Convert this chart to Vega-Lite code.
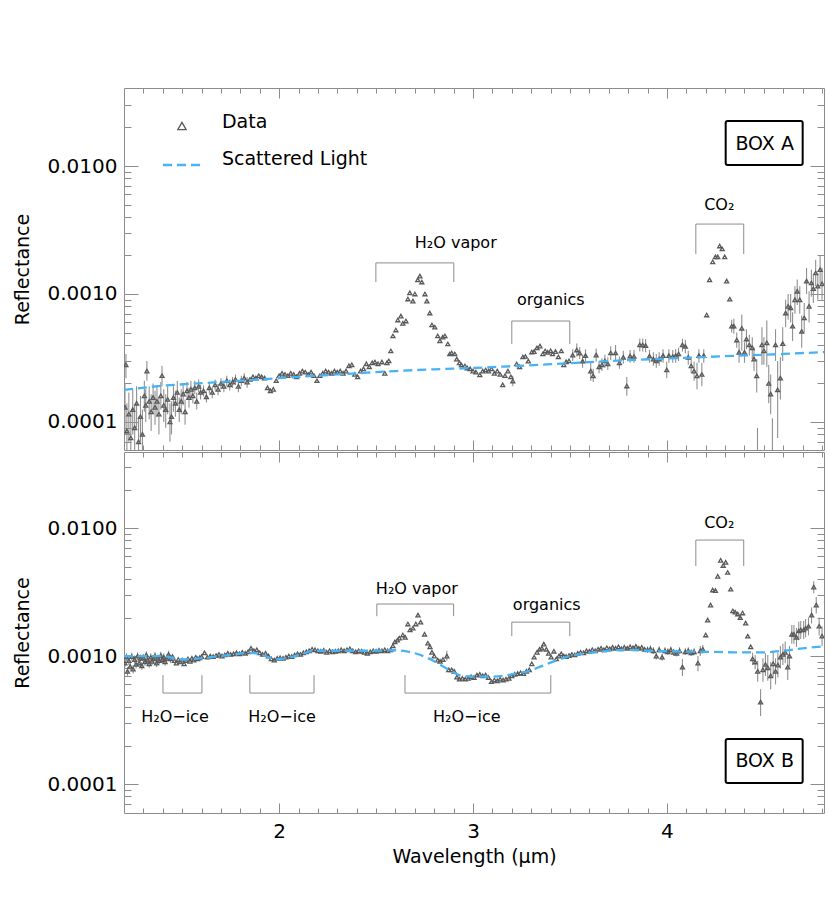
{
"$schema":"https://vega.github.io/schema/vega-lite/v6.json",
"padding":{"left":13,"top":87,"right":6,"bottom":10},
"spacing":0,
"resolve":{"scale":{"x":"independent","y":"independent"}},
"config":{"view":{"stroke":null},"font":"DejaVu Sans","axis":{"grid":false,"domainColor":"#8c8c8c","tickColor":"#8c8c8c","tickWidth":1,"domainWidth":1,"labelColor":"#000","titleColor":"#000","labelFont":"DejaVu Sans","titleFont":"DejaVu Sans","labelFontSize":20,"titleFontSize":19,"titleFontWeight":"normal"}},
"datasets":{
"a":[
{"w":1.205,"r":1.3e-4,"lo":8e-5,"hi":2.0e-4},{"w":1.21,"r":2.8e-4,"lo":2.2e-4,"hi":3.4e-4},{"w":1.215,"r":8.5e-5,"lo":5e-5,"hi":1.4e-4},{"w":1.225,"r":1.15e-4,"lo":7e-5,"hi":1.7e-4},{"w":1.235,"r":7.5e-5,"lo":4.5e-5,"hi":1.2e-4},{"w":1.245,"r":1.25e-4,"lo":8e-5,"hi":1.8e-4},{"w":1.255,"r":9e-5,"lo":6e-5,"hi":1.35e-4},{"w":1.265,"r":1.4e-4,"lo":9e-5,"hi":1.9e-4},{"w":1.275,"r":7e-5,"lo":4.5e-5,"hi":1.1e-4},{"w":1.285,"r":1.1e-4,"lo":7e-5,"hi":1.6e-4},{"w":1.295,"r":8e-5,"lo":5e-5,"hi":1.25e-4},
{"w":1.305,"r":1.6e-4,"lo":1.2e-4,"hi":2.1e-4},{"w":1.312,"r":1.35e-4,"lo":1.0e-4,"hi":1.8e-4},{"w":1.318,"r":2.5e-4,"lo":2.1e-4,"hi":3.0e-4},{"w":1.33,"r":1.45e-4,"lo":1.05e-4,"hi":1.9e-4},{"w":1.34,"r":1.2e-4,"lo":8.5e-5,"hi":1.65e-4},{"w":1.35,"r":1.55e-4,"lo":1.15e-4,"hi":2.0e-4},{"w":1.36,"r":1.3e-4,"lo":9.5e-5,"hi":1.75e-4},{"w":1.37,"r":1.45e-4,"lo":1.1e-4,"hi":1.9e-4},{"w":1.38,"r":1.15e-4,"lo":8e-5,"hi":1.55e-4},{"w":1.39,"r":1.6e-4,"lo":1.25e-4,"hi":2.05e-4},{"w":1.396,"r":2.3e-4,"lo":1.9e-4,"hi":2.75e-4},
{"w":1.405,"r":1.35e-4,"lo":1.0e-4,"hi":1.8e-4},{"w":1.415,"r":1.25e-4,"lo":9e-5,"hi":1.65e-4},{"w":1.425,"r":1.5e-4,"lo":1.15e-4,"hi":1.9e-4},{"w":1.437,"r":1.0e-4,"lo":7e-5,"hi":1.4e-4},{"w":1.445,"r":1.1e-4,"lo":8e-5,"hi":1.45e-4},{"w":1.455,"r":1.55e-4,"lo":1.2e-4,"hi":1.95e-4},{"w":1.465,"r":1.4e-4,"lo":1.1e-4,"hi":1.75e-4},{"w":1.475,"r":1.7e-4,"lo":1.35e-4,"hi":2.1e-4},{"w":1.485,"r":1.25e-4,"lo":1.0e-4,"hi":1.55e-4},{"w":1.495,"r":1.45e-4,"lo":1.15e-4,"hi":1.8e-4},
{"w":1.505,"r":1.65e-4,"lo":1.35e-4,"hi":2.0e-4},{"w":1.515,"r":1.2e-4,"lo":9.5e-5,"hi":1.5e-4},{"w":1.525,"r":1.75e-4,"lo":1.5e-4,"hi":2.05e-4},{"w":1.535,"r":1.55e-4,"lo":1.3e-4,"hi":1.85e-4},{"w":1.545,"r":1.8e-4,"lo":1.55e-4,"hi":2.1e-4},{"w":1.555,"r":1.6e-4,"lo":1.4e-4,"hi":1.85e-4},{"w":1.565,"r":1.85e-4,"lo":1.65e-4,"hi":2.1e-4},{"w":1.575,"r":1.45e-4,"lo":1.25e-4,"hi":1.7e-4},{"w":1.585,"r":1.9e-4,"lo":1.7e-4,"hi":2.15e-4},{"w":1.595,"r":1.7e-4,"lo":1.5e-4,"hi":1.95e-4},
{"w":1.61,"r":1.75e-4,"lo":1.58e-4,"hi":1.93e-4},{"w":1.625,"r":1.57e-4,"lo":1.42e-4,"hi":1.73e-4},{"w":1.64,"r":1.85e-4,"lo":1.67e-4,"hi":2.04e-4},{"w":1.655,"r":1.7e-4,"lo":1.53e-4,"hi":1.87e-4},{"w":1.67,"r":1.95e-4,"lo":1.76e-4,"hi":2.15e-4},{"w":1.685,"r":1.8e-4,"lo":1.62e-4,"hi":1.98e-4},{"w":1.7,"r":2.0e-4,"lo":1.8e-4,"hi":2.2e-4},{"w":1.715,"r":1.9e-4,"lo":1.71e-4,"hi":2.09e-4},{"w":1.73,"r":2.1e-4,"lo":1.9e-4,"hi":2.3e-4},{"w":1.745,"r":1.95e-4,"lo":1.76e-4,"hi":2.15e-4},{"w":1.76,"r":2.05e-4,"lo":1.85e-4,"hi":2.25e-4},{"w":1.775,"r":2.15e-4,"lo":1.95e-4,"hi":2.35e-4},{"w":1.79,"r":1.9e-4,"lo":1.71e-4,"hi":2.09e-4},{"w":1.805,"r":2.1e-4,"lo":1.9e-4,"hi":2.3e-4},{"w":1.82,"r":2.2e-4,"lo":2.0e-4,"hi":2.4e-4},{"w":1.835,"r":2.05e-4,"lo":1.85e-4,"hi":2.25e-4},
{"w":1.85,"r":2.15e-4},{"w":1.865,"r":2.25e-4},{"w":1.88,"r":2.2e-4},{"w":1.895,"r":2.3e-4},{"w":1.91,"r":2.25e-4},{"w":1.925,"r":2.2e-4},{"w":1.94,"r":1.85e-4},{"w":1.955,"r":1.75e-4},{"w":1.97,"r":1.8e-4},{"w":1.985,"r":2.1e-4},{"w":2.0,"r":2.3e-4},{"w":2.015,"r":2.4e-4},{"w":2.03,"r":2.35e-4},{"w":2.045,"r":2.3e-4},{"w":2.06,"r":2.4e-4},{"w":2.075,"r":2.35e-4},{"w":2.09,"r":2.25e-4},
{"w":2.105,"r":2.4e-4},{"w":2.12,"r":2.5e-4},{"w":2.135,"r":2.45e-4},{"w":2.15,"r":2.35e-4},{"w":2.165,"r":2.45e-4},{"w":2.18,"r":2.3e-4},{"w":2.195,"r":2.1e-4},{"w":2.21,"r":2.3e-4},{"w":2.225,"r":2.4e-4},{"w":2.24,"r":2.5e-4},{"w":2.255,"r":2.45e-4},{"w":2.27,"r":2.4e-4},{"w":2.285,"r":2.5e-4},{"w":2.3,"r":2.45e-4},{"w":2.315,"r":2.5e-4},{"w":2.33,"r":2.4e-4},{"w":2.345,"r":2.5e-4},{"w":2.36,"r":2.75e-4},{"w":2.375,"r":2.8e-4},{"w":2.39,"r":2.35e-4},{"w":2.405,"r":2.25e-4},{"w":2.42,"r":2.5e-4},{"w":2.435,"r":2.6e-4},{"w":2.45,"r":2.85e-4},{"w":2.465,"r":2.7e-4},{"w":2.48,"r":2.9e-4},
{"w":2.494,"r":2.94e-4},{"w":2.51,"r":2.85e-4},{"w":2.53,"r":2.94e-4},{"w":2.545,"r":2.4e-4},{"w":2.556,"r":2.9e-4},{"w":2.566,"r":3.0e-4},{"w":2.576,"r":3.59e-4},{"w":2.587,"r":4.7e-4},{"w":2.602,"r":5.23e-4},{"w":2.612,"r":6.26e-4},{"w":2.628,"r":6.72e-4},{"w":2.638,"r":5.9e-4},{"w":2.654,"r":6.15e-4},{"w":2.664,"r":9.14e-4},{"w":2.674,"r":1.02e-3},{"w":2.69,"r":8.8e-4},{"w":2.7,"r":1.0e-3},{"w":2.715,"r":1.29e-3},{"w":2.726,"r":1.38e-3},{"w":2.736,"r":1.24e-3},{"w":2.752,"r":1.0e-3},{"w":2.762,"r":8.8e-4},{"w":2.777,"r":7.1e-4},{"w":2.788,"r":5.73e-4},{"w":2.803,"r":5.5e-4},{"w":2.818,"r":4.7e-4},{"w":2.829,"r":4.3e-4},{"w":2.844,"r":4.6e-4},{"w":2.855,"r":4.7e-4},{"w":2.87,"r":4.07e-4},{"w":2.88,"r":3.4e-4},{"w":2.89,"r":3.46e-4},{"w":2.906,"r":3.4e-4},{"w":2.916,"r":3.1e-4},{"w":2.93,"r":2.9e-4},{"w":2.94,"r":2.79e-4},{"w":2.958,"r":2.74e-4},{"w":2.97,"r":2.64e-4},{"w":2.985,"r":2.6e-4},
{"w":3.0,"r":2.5e-4},{"w":3.015,"r":2.45e-4},{"w":3.035,"r":2.33e-4},{"w":3.05,"r":2.5e-4},{"w":3.065,"r":2.55e-4},{"w":3.08,"r":2.5e-4},{"w":3.095,"r":2.6e-4},{"w":3.11,"r":2.4e-4},{"w":3.125,"r":2.5e-4},{"w":3.14,"r":2.35e-4},{"w":3.153,"r":1.95e-4},{"w":3.165,"r":2.3e-4},{"w":3.18,"r":2.5e-4},{"w":3.195,"r":2.25e-4},{"w":3.205,"r":2.09e-4,"lo":1.9e-4,"hi":2.3e-4},{"w":3.225,"r":2.84e-4},{"w":3.24,"r":2.7e-4},{"w":3.257,"r":3.22e-4},{"w":3.27,"r":3.25e-4},{"w":3.285,"r":2.99e-4},{"w":3.303,"r":3.52e-4},{"w":3.315,"r":3.55e-4},{"w":3.33,"r":3.79e-4},{"w":3.345,"r":3.92e-4},{"w":3.36,"r":3.4e-4},{"w":3.372,"r":3.59e-4},{"w":3.385,"r":3.5e-4},{"w":3.4,"r":3.6e-4},{"w":3.41,"r":3.4e-4},{"w":3.425,"r":3.55e-4},{"w":3.44,"r":3.22e-4},{"w":3.455,"r":3.59e-4},{"w":3.468,"r":2.79e-4},{"w":3.48,"r":2.95e-4},{"w":3.495,"r":3.0e-4},
{"w":3.514,"r":3.33e-4,"lo":3.0e-4,"hi":3.7e-4},{"w":3.535,"r":3.65e-4,"lo":3.25e-4,"hi":4.1e-4},{"w":3.55,"r":3.45e-4,"lo":3.1e-4,"hi":3.85e-4},{"w":3.565,"r":2.99e-4,"lo":2.65e-4,"hi":3.35e-4},{"w":3.58,"r":3.3e-4,"lo":2.95e-4,"hi":3.7e-4},{"w":3.607,"r":2.5e-4,"lo":2.1e-4,"hi":2.9e-4},{"w":3.62,"r":2.29e-4,"lo":2.05e-4,"hi":2.6e-4},{"w":3.635,"r":3.33e-4,"lo":2.95e-4,"hi":3.75e-4},{"w":3.65,"r":2.7e-4,"lo":2.4e-4,"hi":3.0e-4},{"w":3.665,"r":2.8e-4,"lo":2.5e-4,"hi":3.15e-4},{"w":3.68,"r":3.0e-4,"lo":2.65e-4,"hi":3.35e-4},{"w":3.695,"r":2.85e-4,"lo":2.55e-4,"hi":3.2e-4},{"w":3.71,"r":3.46e-4,"lo":3.05e-4,"hi":3.9e-4},{"w":3.735,"r":3.46e-4,"lo":3.0e-4,"hi":4.0e-4},{"w":3.755,"r":2.9e-4,"lo":2.6e-4,"hi":3.25e-4},{"w":3.775,"r":3.2e-4,"lo":2.85e-4,"hi":3.6e-4},{"w":3.793,"r":1.91e-4,"lo":1.6e-4,"hi":2.25e-4},{"w":3.81,"r":3.27e-4,"lo":2.9e-4,"hi":3.65e-4},{"w":3.83,"r":3.25e-4,"lo":2.9e-4,"hi":3.65e-4},{"w":3.86,"r":4.0e-4,"lo":3.55e-4,"hi":4.5e-4},{"w":3.875,"r":4.0e-4,"lo":3.55e-4,"hi":4.5e-4},{"w":3.89,"r":3.95e-4,"lo":3.5e-4,"hi":4.45e-4},{"w":3.91,"r":3.27e-4,"lo":2.9e-4,"hi":3.65e-4},{"w":3.93,"r":3.1e-4,"lo":2.75e-4,"hi":3.5e-4},{"w":3.945,"r":3.0e-4,"lo":2.65e-4,"hi":3.4e-4},{"w":3.96,"r":3.1e-4,"lo":2.75e-4,"hi":3.5e-4},{"w":3.98,"r":3.3e-4,"lo":2.9e-4,"hi":3.7e-4},{"w":3.999,"r":2.55e-4,"lo":2.2e-4,"hi":2.95e-4},
{"w":4.01,"r":3.3e-4,"lo":2.9e-4,"hi":3.7e-4},{"w":4.03,"r":3.25e-4,"lo":2.9e-4,"hi":3.65e-4},{"w":4.045,"r":3.3e-4,"lo":2.9e-4,"hi":3.7e-4},{"w":4.06,"r":3.4e-4,"lo":3.0e-4,"hi":3.8e-4},{"w":4.08,"r":4.0e-4,"lo":3.55e-4,"hi":4.5e-4},{"w":4.095,"r":3.9e-4,"lo":3.45e-4,"hi":4.4e-4},{"w":4.11,"r":3.2e-4,"lo":2.8e-4,"hi":3.6e-4},{"w":4.125,"r":2.74e-4,"lo":2.4e-4,"hi":3.1e-4},{"w":4.14,"r":2.5e-4,"lo":2.1e-4,"hi":2.95e-4},{"w":4.155,"r":2.29e-4,"lo":1.8e-4,"hi":2.9e-4},{"w":4.165,"r":3.3e-4,"lo":2.9e-4,"hi":3.7e-4},{"w":4.18,"r":2.35e-4,"lo":1.9e-4,"hi":2.9e-4},{"w":4.19,"r":3.3e-4,"lo":2.9e-4,"hi":3.7e-4},
{"w":4.205,"r":6.85e-4},{"w":4.22,"r":1.29e-3},{"w":4.236,"r":1.78e-3},{"w":4.25,"r":1.95e-3},{"w":4.262,"r":1.95e-3},{"w":4.272,"r":2.37e-3},{"w":4.285,"r":2.25e-3},{"w":4.298,"r":1.95e-3},{"w":4.308,"r":1.26e-3},{"w":4.324,"r":9.1e-4},{"w":4.334,"r":5.6e-4,"lo":5.0e-4,"hi":6.3e-4},{"w":4.345,"r":5.6e-4,"lo":4.9e-4,"hi":6.4e-4},{"w":4.36,"r":4.37e-4,"lo":3.8e-4,"hi":5.0e-4},{"w":4.372,"r":3.5e-4,"lo":2.9e-4,"hi":4.2e-4},{"w":4.386,"r":5.4e-4,"lo":3.6e-4,"hi":6.9e-4},{"w":4.4,"r":3.5e-4,"lo":2.9e-4,"hi":4.2e-4},{"w":4.41,"r":4.45e-4,"lo":3.7e-4,"hi":5.3e-4},{"w":4.425,"r":4.0e-4,"lo":3.3e-4,"hi":4.8e-4},{"w":4.44,"r":3.8e-4,"lo":3.1e-4,"hi":4.6e-4},{"w":4.449,"r":3.1e-4,"lo":2.5e-4,"hi":3.8e-4},{"w":4.463,"r":2.29e-4,"lo":1.7e-4,"hi":3.1e-4},{"w":4.467,"r":3e-5,"lo":1e-5,"hi":9e-5},{"w":4.49,"r":4.0e-4,"lo":2.8e-4,"hi":5.5e-4},{"w":4.5,"r":3.6e-4,"lo":2.8e-4,"hi":4.6e-4},{"w":4.515,"r":4.15e-4,"lo":2.7e-4,"hi":6.2e-4},{"w":4.525,"r":2.0e-4,"lo":1.4e-4,"hi":2.8e-4},{"w":4.535,"r":1.65e-4,"lo":1.15e-4,"hi":2.35e-4},{"w":4.544,"r":3e-5,"lo":1e-5,"hi":1.07e-4},{"w":4.56,"r":4.0e-4,"lo":3.0e-4,"hi":5.3e-4},{"w":4.571,"r":1.78e-4,"lo":7.5e-5,"hi":3.0e-4},{"w":4.585,"r":2.2e-4,"lo":1.5e-4,"hi":3.2e-4},{"w":4.597,"r":4.1e-4,"lo":3.0e-4,"hi":5.5e-4},
{"w":4.612,"r":7.1e-4,"lo":5.5e-4,"hi":9.0e-4},{"w":4.625,"r":8.0e-4,"lo":6.3e-4,"hi":1.0e-3},{"w":4.638,"r":7.8e-4,"lo":6.0e-4,"hi":1.0e-3},{"w":4.648,"r":5.6e-4,"lo":4.3e-4,"hi":7.2e-4},{"w":4.66,"r":9.0e-4,"lo":7.0e-4,"hi":1.15e-3},{"w":4.672,"r":1.05e-3,"lo":8.2e-4,"hi":1.3e-3},{"w":4.685,"r":9.0e-4,"lo":7.0e-4,"hi":1.15e-3},{"w":4.695,"r":5.1e-4,"lo":3.8e-4,"hi":6.8e-4},{"w":4.708,"r":6.5e-4,"lo":5.0e-4,"hi":8.5e-4},{"w":4.72,"r":1.26e-3,"lo":1.0e-3,"hi":1.6e-3},{"w":4.733,"r":8.0e-4,"lo":6.0e-4,"hi":1.05e-3},{"w":4.745,"r":1.22e-3,"lo":9.5e-4,"hi":1.55e-3},{"w":4.755,"r":1.1e-3,"lo":8.5e-4,"hi":1.4e-3},{"w":4.767,"r":1.46e-3,"lo":1.15e-3,"hi":1.85e-3},{"w":4.778,"r":1.15e-3,"lo":9.0e-4,"hi":1.45e-3},{"w":4.79,"r":1.55e-3,"lo":1.2e-3,"hi":2.0e-3},{"w":4.8,"r":1.2e-3,"lo":9.0e-4,"hi":1.6e-3}
],
"b":[
{"w":1.205,"r":8.8e-4,"lo":8.2e-4,"hi":9.4e-4},{"w":1.212,"r":9.8e-4,"lo":9.1e-4,"hi":1.05e-3},{"w":1.218,"r":7.6e-4,"lo":7.0e-4,"hi":8.2e-4},{"w":1.225,"r":9.2e-4,"lo":8.5e-4,"hi":9.9e-4},{"w":1.232,"r":8.3e-4,"lo":7.7e-4,"hi":8.9e-4},{"w":1.24,"r":9.9e-4,"lo":9.2e-4,"hi":1.06e-3},{"w":1.247,"r":7.9e-4,"lo":7.3e-4,"hi":8.5e-4},{"w":1.255,"r":9.4e-4,"lo":8.7e-4,"hi":1.01e-3},{"w":1.262,"r":8.6e-4,"lo":8.0e-4,"hi":9.2e-4},{"w":1.27,"r":1.0e-3,"lo":9.3e-4,"hi":1.07e-3},{"w":1.278,"r":8.8e-4,"lo":8.2e-4,"hi":9.4e-4},{"w":1.285,"r":9.6e-4,"lo":8.9e-4,"hi":1.03e-3},{"w":1.292,"r":8.4e-4,"lo":7.8e-4,"hi":9.0e-4},{"w":1.3,"r":9.7e-4,"lo":9.0e-4,"hi":1.04e-3},{"w":1.308,"r":9.0e-4,"lo":8.4e-4,"hi":9.6e-4},{"w":1.315,"r":1.02e-3,"lo":9.5e-4,"hi":1.09e-3},{"w":1.322,"r":9.3e-4,"lo":8.6e-4,"hi":1.0e-3},{"w":1.33,"r":8.7e-4,"lo":8.1e-4,"hi":9.3e-4},{"w":1.338,"r":9.8e-4,"lo":9.1e-4,"hi":1.05e-3},{"w":1.345,"r":9.1e-4,"lo":8.5e-4,"hi":9.7e-4},{"w":1.352,"r":9.5e-4,"lo":8.8e-4,"hi":1.02e-3},{"w":1.36,"r":1.0e-3,"lo":9.3e-4,"hi":1.07e-3},{"w":1.368,"r":8.8e-4,"lo":8.2e-4,"hi":9.4e-4},{"w":1.375,"r":9.6e-4,"lo":8.9e-4,"hi":1.03e-3},{"w":1.382,"r":9.2e-4,"lo":8.6e-4,"hi":9.8e-4},{"w":1.39,"r":1.01e-3,"lo":9.4e-4,"hi":1.08e-3},{"w":1.398,"r":9.4e-4,"lo":8.7e-4,"hi":1.01e-3},{"w":1.405,"r":9.8e-4,"lo":9.1e-4,"hi":1.05e-3},{"w":1.412,"r":9.0e-4,"lo":8.4e-4,"hi":9.6e-4},{"w":1.42,"r":9.6e-4,"lo":8.9e-4,"hi":1.03e-3},{"w":1.43,"r":1.03e-3,"lo":9.6e-4,"hi":1.1e-3},{"w":1.44,"r":9.5e-4,"lo":8.8e-4,"hi":1.02e-3},
{"w":1.45,"r":9.9e-4},{"w":1.46,"r":9.2e-4},{"w":1.47,"r":8.8e-4},{"w":1.48,"r":9.4e-4},{"w":1.49,"r":9.0e-4},{"w":1.5,"r":9.3e-4},{"w":1.51,"r":8.7e-4},{"w":1.52,"r":9.2e-4},{"w":1.53,"r":9.5e-4},{"w":1.54,"r":9.1e-4},{"w":1.55,"r":9.6e-4},{"w":1.56,"r":9.3e-4},{"w":1.57,"r":9.8e-4},{"w":1.58,"r":9.5e-4},{"w":1.59,"r":9.7e-4},{"w":1.6,"r":9.9e-4},{"w":1.615,"r":1.06e-3},{"w":1.63,"r":9.8e-4},{"w":1.645,"r":1.0e-3},{"w":1.66,"r":9.9e-4},{"w":1.675,"r":1.01e-3},{"w":1.69,"r":1.03e-3},{"w":1.705,"r":1.0e-3},{"w":1.72,"r":1.02e-3},{"w":1.735,"r":1.05e-3},{"w":1.75,"r":1.03e-3},{"w":1.765,"r":1.04e-3},{"w":1.78,"r":1.06e-3},{"w":1.795,"r":1.04e-3},{"w":1.81,"r":1.07e-3},{"w":1.825,"r":1.05e-3},{"w":1.84,"r":1.08e-3},{"w":1.855,"r":1.15e-3},{"w":1.87,"r":1.1e-3},{"w":1.885,"r":1.12e-3},{"w":1.9,"r":1.06e-3},{"w":1.915,"r":1.03e-3},{"w":1.93,"r":1.05e-3},{"w":1.945,"r":1.0e-3},{"w":1.96,"r":9.5e-4},{"w":1.975,"r":9.3e-4},{"w":1.99,"r":9.6e-4},
{"w":2.005,"r":9.7e-4},{"w":2.02,"r":9.6e-4},{"w":2.035,"r":9.8e-4},{"w":2.05,"r":1.0e-3},{"w":2.065,"r":9.9e-4},{"w":2.08,"r":1.02e-3},{"w":2.095,"r":1.04e-3},{"w":2.11,"r":1.03e-3},{"w":2.125,"r":1.06e-3},{"w":2.14,"r":1.08e-3},{"w":2.155,"r":1.1e-3},{"w":2.17,"r":1.13e-3},{"w":2.185,"r":1.12e-3},{"w":2.2,"r":1.1e-3},{"w":2.215,"r":1.09e-3},{"w":2.23,"r":1.11e-3},{"w":2.245,"r":1.07e-3},{"w":2.26,"r":1.1e-3},{"w":2.275,"r":1.08e-3},{"w":2.29,"r":1.09e-3},{"w":2.305,"r":1.1e-3},{"w":2.32,"r":1.12e-3},{"w":2.335,"r":1.1e-3},{"w":2.35,"r":1.12e-3},{"w":2.365,"r":1.14e-3},{"w":2.38,"r":1.1e-3},{"w":2.395,"r":1.08e-3},{"w":2.41,"r":1.1e-3},{"w":2.425,"r":1.09e-3},{"w":2.44,"r":1.07e-3},{"w":2.455,"r":1.05e-3},{"w":2.47,"r":1.08e-3},{"w":2.485,"r":1.1e-3},{"w":2.5,"r":1.09e-3},{"w":2.515,"r":1.11e-3},{"w":2.53,"r":1.1e-3},{"w":2.545,"r":1.12e-3},{"w":2.56,"r":1.1e-3},{"w":2.575,"r":1.12e-3},
{"w":2.587,"r":1.2e-3},{"w":2.597,"r":1.29e-3},{"w":2.61,"r":1.33e-3},{"w":2.62,"r":1.38e-3},{"w":2.638,"r":1.46e-3},{"w":2.65,"r":1.4e-3},{"w":2.664,"r":1.78e-3},{"w":2.675,"r":1.6e-3},{"w":2.69,"r":1.65e-3},{"w":2.705,"r":1.78e-3},{"w":2.716,"r":2.09e-3},{"w":2.73,"r":1.84e-3},{"w":2.75,"r":1.48e-3},{"w":2.767,"r":1.26e-3},{"w":2.778,"r":1.18e-3},{"w":2.788,"r":1.07e-3},{"w":2.8,"r":1.0e-3},{"w":2.818,"r":9.3e-4},{"w":2.83,"r":9.1e-4},{"w":2.845,"r":9.4e-4},{"w":2.865,"r":1.0e-3,"lo":9.2e-4,"hi":1.1e-3},{"w":2.875,"r":7.8e-4},{"w":2.89,"r":7.8e-4},{"w":2.903,"r":7.6e-4},{"w":2.917,"r":6.85e-4},{"w":2.93,"r":6.6e-4},{"w":2.945,"r":6.7e-4},{"w":2.96,"r":6.6e-4},{"w":2.975,"r":6.7e-4},{"w":2.99,"r":6.9e-4},
{"w":3.005,"r":6.8e-4},{"w":3.02,"r":7.1e-4},{"w":3.035,"r":7.2e-4},{"w":3.05,"r":7.0e-4},{"w":3.065,"r":7.1e-4},{"w":3.08,"r":6.8e-4},{"w":3.095,"r":6.3e-4},{"w":3.11,"r":6.5e-4},{"w":3.125,"r":6.4e-4},{"w":3.14,"r":6.6e-4},{"w":3.155,"r":6.5e-4},{"w":3.17,"r":6.6e-4},{"w":3.185,"r":6.7e-4},{"w":3.2,"r":7.0e-4},{"w":3.215,"r":7.2e-4},{"w":3.23,"r":7.3e-4},{"w":3.245,"r":7.4e-4},{"w":3.26,"r":7.3e-4},{"w":3.275,"r":7.6e-4},{"w":3.29,"r":7.8e-4},{"w":3.303,"r":8.7e-4},{"w":3.315,"r":9.8e-4},{"w":3.33,"r":1.07e-3},{"w":3.343,"r":1.13e-3},{"w":3.355,"r":1.15e-3},{"w":3.365,"r":1.24e-3},{"w":3.378,"r":1.13e-3},{"w":3.39,"r":1.05e-3},{"w":3.403,"r":9.8e-4},{"w":3.417,"r":1.09e-3},{"w":3.43,"r":9.5e-4},{"w":3.443,"r":1.0e-3},{"w":3.455,"r":1.04e-3},{"w":3.468,"r":1.0e-3},{"w":3.48,"r":9.9e-4},{"w":3.495,"r":1.01e-3},
{"w":3.51,"r":1.03e-3},{"w":3.525,"r":1.02e-3},{"w":3.54,"r":1.05e-3},{"w":3.555,"r":1.07e-3},{"w":3.57,"r":1.06e-3},{"w":3.585,"r":1.1e-3},{"w":3.6,"r":1.09e-3},{"w":3.615,"r":1.12e-3},{"w":3.63,"r":1.1e-3},{"w":3.645,"r":1.13e-3},{"w":3.66,"r":1.15e-3},{"w":3.675,"r":1.12e-3},{"w":3.69,"r":1.16e-3},{"w":3.705,"r":1.14e-3},{"w":3.72,"r":1.17e-3},{"w":3.735,"r":1.15e-3},{"w":3.75,"r":1.18e-3},{"w":3.765,"r":1.14e-3},{"w":3.78,"r":1.17e-3},{"w":3.795,"r":1.15e-3},{"w":3.81,"r":1.18e-3},{"w":3.825,"r":1.16e-3},{"w":3.84,"r":1.19e-3},{"w":3.855,"r":1.15e-3},{"w":3.87,"r":1.17e-3},{"w":3.885,"r":1.13e-3},
{"w":3.9,"r":1.12e-3,"lo":1.06e-3,"hi":1.19e-3},{"w":3.915,"r":1.14e-3,"lo":1.07e-3,"hi":1.21e-3},{"w":3.93,"r":1.1e-3,"lo":1.04e-3,"hi":1.17e-3},{"w":3.945,"r":1.0e-3,"lo":9.4e-4,"hi":1.06e-3},{"w":3.96,"r":1.12e-3,"lo":1.06e-3,"hi":1.19e-3},{"w":3.975,"r":9.8e-4,"lo":9.2e-4,"hi":1.04e-3},{"w":3.99,"r":1.1e-3,"lo":1.04e-3,"hi":1.17e-3},{"w":4.005,"r":1.08e-3,"lo":1.02e-3,"hi":1.15e-3},{"w":4.02,"r":1.12e-3,"lo":1.06e-3,"hi":1.19e-3},{"w":4.035,"r":1.07e-3,"lo":1.0e-3,"hi":1.14e-3},{"w":4.05,"r":1.05e-3,"lo":9.9e-4,"hi":1.12e-3},{"w":4.065,"r":1.1e-3,"lo":1.04e-3,"hi":1.17e-3},{"w":4.08,"r":8.2e-4,"lo":7.0e-4,"hi":9.5e-4},{"w":4.095,"r":1.08e-3,"lo":1.02e-3,"hi":1.15e-3},{"w":4.11,"r":1.1e-3,"lo":1.04e-3,"hi":1.17e-3},{"w":4.125,"r":1.06e-3,"lo":1.0e-3,"hi":1.13e-3},{"w":4.14,"r":1.08e-3,"lo":1.02e-3,"hi":1.15e-3},{"w":4.16,"r":8.8e-4,"lo":7.6e-4,"hi":1.0e-3},{"w":4.172,"r":1.1e-3,"lo":1.0e-3,"hi":1.2e-3},{"w":4.185,"r":1.13e-3,"lo":1.05e-3,"hi":1.22e-3},
{"w":4.2,"r":1.46e-3},{"w":4.21,"r":1.91e-3},{"w":4.225,"r":2.5e-3},{"w":4.236,"r":3.28e-3},{"w":4.25,"r":3.25e-3},{"w":4.262,"r":4.2e-3},{"w":4.277,"r":5.6e-3},{"w":4.29,"r":5.1e-3},{"w":4.303,"r":5.4e-3},{"w":4.313,"r":4.5e-3},{"w":4.329,"r":3.33e-3},{"w":4.34,"r":2.25e-3},{"w":4.352,"r":2.2e-3},{"w":4.365,"r":2.13e-3},{"w":4.378,"r":2.0e-3},{"w":4.39,"r":2.17e-3},{"w":4.406,"r":1.81e-3},{"w":4.417,"r":1.43e-3},{"w":4.432,"r":1.18e-3},
{"w":4.442,"r":9.5e-4,"lo":8.5e-4,"hi":1.06e-3},{"w":4.455,"r":8.98e-4,"lo":7.9e-4,"hi":1.02e-3},{"w":4.468,"r":7.6e-4,"lo":6.3e-4,"hi":9.2e-4},{"w":4.483,"r":4.37e-4,"lo":3.4e-4,"hi":5.5e-4},{"w":4.495,"r":7.8e-4,"lo":6.3e-4,"hi":9.6e-4},{"w":4.508,"r":8.6e-4,"lo":7.0e-4,"hi":1.05e-3},{"w":4.52,"r":8.1e-4,"lo":6.4e-4,"hi":1.02e-3},{"w":4.535,"r":7.0e-4,"lo":5.5e-4,"hi":9.0e-4},{"w":4.548,"r":8.7e-4,"lo":6.9e-4,"hi":1.1e-3},{"w":4.56,"r":7.6e-4,"lo":6.0e-4,"hi":9.6e-4},{"w":4.572,"r":8.5e-4,"lo":6.8e-4,"hi":1.06e-3},{"w":4.585,"r":9.8e-4,"lo":8.0e-4,"hi":1.2e-3},{"w":4.598,"r":1.03e-3,"lo":8.5e-4,"hi":1.25e-3},{"w":4.61,"r":1.07e-3,"lo":8.8e-4,"hi":1.3e-3},{"w":4.623,"r":8.2e-4,"lo":6.5e-4,"hi":1.03e-3},{"w":4.632,"r":1.0e-3,"lo":8.3e-4,"hi":1.2e-3},{"w":4.644,"r":1.48e-3,"lo":1.25e-3,"hi":1.75e-3},{"w":4.655,"r":1.48e-3,"lo":1.25e-3,"hi":1.75e-3},{"w":4.668,"r":1.4e-3,"lo":1.18e-3,"hi":1.66e-3},{"w":4.68,"r":1.57e-3,"lo":1.33e-3,"hi":1.85e-3},{"w":4.69,"r":1.6e-3,"lo":1.36e-3,"hi":1.88e-3},{"w":4.705,"r":1.6e-3,"lo":1.36e-3,"hi":1.88e-3},{"w":4.715,"r":1.65e-3,"lo":1.4e-3,"hi":1.95e-3},{"w":4.73,"r":1.71e-3,"lo":1.45e-3,"hi":2.0e-3},{"w":4.746,"r":2.09e-3,"lo":1.8e-3,"hi":2.4e-3},{"w":4.757,"r":3.46e-3,"lo":3.1e-3,"hi":3.85e-3},{"w":4.77,"r":2.5e-3,"lo":2.15e-3,"hi":2.9e-3},{"w":4.785,"r":1.71e-3,"lo":1.45e-3,"hi":2.0e-3},{"w":4.8,"r":1.43e-3,"lo":1.2e-3,"hi":1.7e-3}
],
"sa":[{"w":1.2,"r":1.78e-4},{"w":1.4,"r":1.92e-4},{"w":1.6,"r":2.01e-4},{"w":1.8,"r":2.1e-4},{"w":2.0,"r":2.2e-4},{"w":2.2,"r":2.3e-4},{"w":2.4,"r":2.4e-4},{"w":2.6,"r":2.5e-4},{"w":2.8,"r":2.58e-4},{"w":3.0,"r":2.64e-4},{"w":3.2,"r":2.73e-4},{"w":3.4,"r":2.83e-4},{"w":3.6,"r":2.94e-4},{"w":3.8,"r":3.04e-4},{"w":4.0,"r":3.13e-4},{"w":4.2,"r":3.22e-4},{"w":4.4,"r":3.31e-4},{"w":4.6,"r":3.4e-4},{"w":4.81,"r":3.52e-4}],
"sb":[{"w":1.2,"r":1.0e-3},{"w":1.3,"r":1.0e-3},{"w":1.4,"r":1.0e-3},{"w":1.45,"r":9.7e-4},{"w":1.5,"r":9.4e-4},{"w":1.56,"r":9.5e-4},{"w":1.65,"r":9.8e-4},{"w":1.75,"r":1.02e-3},{"w":1.85,"r":1.06e-3},{"w":1.9,"r":1.04e-3},{"w":1.95,"r":9.7e-4},{"w":1.98,"r":9.4e-4},{"w":2.05,"r":9.7e-4},{"w":2.12,"r":1.04e-3},{"w":2.18,"r":1.1e-3},{"w":2.3,"r":1.1e-3},{"w":2.45,"r":1.1e-3},{"w":2.6,"r":1.11e-3},{"w":2.68,"r":1.07e-3},{"w":2.75,"r":9.9e-4},{"w":2.8,"r":9.1e-4},{"w":2.87,"r":7.9e-4},{"w":2.93,"r":7.1e-4},{"w":3.0,"r":6.9e-4},{"w":3.1,"r":6.9e-4},{"w":3.2,"r":7.2e-4},{"w":3.28,"r":7.6e-4},{"w":3.35,"r":8.3e-4},{"w":3.41,"r":9.0e-4},{"w":3.5,"r":1.0e-3},{"w":3.6,"r":1.06e-3},{"w":3.7,"r":1.1e-3},{"w":3.8,"r":1.12e-3},{"w":3.9,"r":1.1e-3},{"w":4.0,"r":1.09e-3},{"w":4.2,"r":1.08e-3},{"w":4.35,"r":1.07e-3},{"w":4.5,"r":1.07e-3},{"w":4.6,"r":1.1e-3},{"w":4.7,"r":1.15e-3},{"w":4.81,"r":1.19e-3}],
"bra":[{"x1":2.499,"x2":2.901,"yh":1.75e-3,"yt":1.24e-3},{"x1":3.2,"x2":3.499,"yh":6.15e-4,"yt":4.07e-4},{"x1":4.149,"x2":4.396,"yh":3.52e-3,"yt":2.05e-3}],
"brb":[{"x1":2.504,"x2":2.9,"yh":2.55e-3,"yt":2.05e-3},{"x1":3.2,"x2":3.499,"yh":1.84e-3,"yt":1.43e-3},{"x1":4.149,"x2":4.396,"yh":8.06e-3,"yt":5.05e-3},{"x1":1.401,"x2":1.602,"yh":5.14e-4,"yt":7.1e-4},{"x1":1.849,"x2":2.18,"yh":5.14e-4,"yt":7.1e-4},{"x1":2.649,"x2":3.401,"yh":5.14e-4,"yt":7.1e-4}],
"lba":[{"t":"H₂O vapor","x":2.911,"y":2.5e-3},{"t":"organics","x":3.401,"y":8.98e-4},{"t":"CO₂","x":4.27,"y":4.96e-3}],
"lbb":[{"t":"H₂O vapor","x":2.71,"y":3.34e-3},{"t":"organics","x":3.38,"y":2.5e-3},{"t":"CO₂","x":4.27,"y":1.09e-2},{"t":"H₂O−ice","x":1.463,"y":3.34e-4},{"t":"H₂O−ice","x":2.015,"y":3.34e-4},{"t":"H₂O−ice","x":2.968,"y":3.34e-4}]
},
"vconcat":[
{"width":700,"height":362,
 "resolve":{"axis":{"x":"independent","y":"independent"}},
 "layer":[
  {"data":{"name":"a"},"transform":[{"filter":"datum.lo != null"}],"mark":{"type":"rule","color":"#909090","strokeWidth":1.1,"clip":true},
   "encoding":{"x":{"field":"w","type":"quantitative","scale":{"domain":[1.2,4.81],"nice":false,"zero":false},"axis":{"orient":"bottom","values":[2,3,4],"tickSize":-10,"labels":false,"title":null}},
    "y":{"field":"lo","type":"quantitative","scale":{"type":"log","domain":[6.04e-5,0.0407],"nice":false},"axis":{"orient":"left","values":[0.0001,0.001,0.01],"format":".4f","tickSize":-14,"labelPadding":21,"title":"Reflectance","titlePadding":15}},
    "y2":{"field":"hi"}}},
  {"data":{"name":"a"},"mark":{"type":"point","shape":"triangle-up","filled":false,"size":16,"strokeWidth":1.3,"color":"#595959","opacity":1,"clip":true},
   "encoding":{"x":{"field":"w","type":"quantitative","scale":{"domain":[1.2,4.81],"nice":false,"zero":false},"axis":{"orient":"bottom","values":[1.3,1.4,1.5,1.6,1.7,1.8,1.9,2.1,2.2,2.3,2.4,2.5,2.6,2.7,2.8,2.9,3.1,3.2,3.3,3.4,3.5,3.6,3.7,3.8,3.9,4.1,4.2,4.3,4.4,4.5,4.6,4.7,4.8],"tickSize":-5,"labels":false,"domain":false,"title":null}},
    "y":{"field":"r","type":"quantitative","scale":{"type":"log","domain":[6.04e-5,0.0407],"nice":false},"axis":{"orient":"left","values":[7e-5,8e-5,9e-5,2e-4,3e-4,4e-4,5e-4,6e-4,7e-4,8e-4,9e-4,0.002,0.003,0.004,0.005,0.006,0.007,0.008,0.009,0.02,0.03],"tickSize":-7,"labels":false,"domain":false,"title":null}}}},
  {"data":{"name":"sa"},"mark":{"type":"line","color":"#47b3f5","strokeWidth":2.3,"strokeDash":[9,5],"interpolate":"monotone","clip":true},
   "encoding":{"x":{"field":"w","type":"quantitative","scale":{"domain":[1.2,4.81],"nice":false,"zero":false},"axis":{"orient":"top","values":[2,3,4],"tickSize":-10,"labels":false,"title":null}},
    "y":{"field":"r","type":"quantitative","scale":{"type":"log","domain":[6.04e-5,0.0407],"nice":false},"axis":{"orient":"right","values":[0.0001,0.001,0.01],"tickSize":-14,"labels":false,"title":null}}}},
  {"data":{"name":"bra"},"mark":{"type":"rule","color":"#8c8c8c","strokeWidth":1},
   "encoding":{"x":{"field":"x1","type":"quantitative","scale":{"domain":[1.2,4.81],"nice":false,"zero":false},"axis":{"orient":"top","values":[1.3,1.4,1.5,1.6,1.7,1.8,1.9,2.1,2.2,2.3,2.4,2.5,2.6,2.7,2.8,2.9,3.1,3.2,3.3,3.4,3.5,3.6,3.7,3.8,3.9,4.1,4.2,4.3,4.4,4.5,4.6,4.7,4.8],"tickSize":-5,"labels":false,"domain":false,"title":null}},
    "x2":{"field":"x2"},
    "y":{"field":"yh","type":"quantitative","scale":{"type":"log","domain":[6.04e-5,0.0407],"nice":false},"axis":{"orient":"right","values":[7e-5,8e-5,9e-5,2e-4,3e-4,4e-4,5e-4,6e-4,7e-4,8e-4,9e-4,0.002,0.003,0.004,0.005,0.006,0.007,0.008,0.009,0.02,0.03],"tickSize":-7,"labels":false,"domain":false,"title":null}}}},
  {"data":{"name":"bra"},"transform":[{"fold":["x1","x2"],"as":["end","xe"]}],"mark":{"type":"rule","color":"#8c8c8c","strokeWidth":1},
   "encoding":{"x":{"field":"xe","type":"quantitative","scale":{"domain":[1.2,4.81],"nice":false,"zero":false},"axis":null},
    "y":{"field":"yh","type":"quantitative","scale":{"type":"log","domain":[6.04e-5,0.0407],"nice":false},"axis":null},"y2":{"field":"yt"}}},
  {"data":{"name":"lba"},"mark":{"type":"text","font":"DejaVu Sans","fontSize":16,"color":"#000","align":"center","baseline":"middle"},
   "encoding":{"x":{"field":"x","type":"quantitative","scale":{"domain":[1.2,4.81],"nice":false,"zero":false},"axis":null},
    "y":{"field":"y","type":"quantitative","scale":{"type":"log","domain":[6.04e-5,0.0407],"nice":false},"axis":null},"text":{"field":"t"}}},
  {"data":{"values":[{"x1":4.303,"x2":4.7,"y1":0.02247,"y2":0.01018}]},"mark":{"type":"rect","fill":"#fff","stroke":"#000","strokeWidth":2,"cornerRadius":2},
   "encoding":{"x":{"field":"x1","type":"quantitative","scale":{"domain":[1.2,4.81],"nice":false,"zero":false},"axis":null},"x2":{"field":"x2"},
    "y":{"field":"y1","type":"quantitative","scale":{"type":"log","domain":[6.04e-5,0.0407],"nice":false},"axis":null},"y2":{"field":"y2"}}},
  {"data":{"values":[{"t":"BOX  A","x":4.504,"y":0.01486}]},"mark":{"type":"text","font":"DejaVu Sans","fontSize":19,"color":"#000","align":"center","baseline":"middle"},
   "encoding":{"x":{"field":"x","type":"quantitative","scale":{"domain":[1.2,4.81],"nice":false,"zero":false},"axis":null},
    "y":{"field":"y","type":"quantitative","scale":{"type":"log","domain":[6.04e-5,0.0407],"nice":false},"axis":null},"text":{"field":"t"}}},
  {"data":{"values":[{"x":1.499,"y":0.02054}]},"mark":{"type":"point","shape":"triangle-up","filled":false,"size":70,"strokeWidth":1.3,"color":"#595959","opacity":1},
   "encoding":{"x":{"field":"x","type":"quantitative","scale":{"domain":[1.2,4.81],"nice":false,"zero":false},"axis":null},
    "y":{"field":"y","type":"quantitative","scale":{"type":"log","domain":[6.04e-5,0.0407],"nice":false},"axis":null}}},
  {"data":{"values":[{"x1":1.401,"x2":1.602,"y":0.01018}]},"mark":{"type":"rule","color":"#47b3f5","strokeWidth":2.3,"strokeDash":[9,5]},
   "encoding":{"x":{"field":"x1","type":"quantitative","scale":{"domain":[1.2,4.81],"nice":false,"zero":false},"axis":null},"x2":{"field":"x2"},
    "y":{"field":"y","type":"quantitative","scale":{"type":"log","domain":[6.04e-5,0.0407],"nice":false},"axis":null}}},
  {"data":{"values":[{"t":"Data","x":1.705,"y":0.0221},{"t":"Scattered Light","x":1.705,"y":0.01134}]},"mark":{"type":"text","font":"DejaVu Sans","fontSize":19,"color":"#000","align":"left","baseline":"middle"},
   "encoding":{"x":{"field":"x","type":"quantitative","scale":{"domain":[1.2,4.81],"nice":false,"zero":false},"axis":null},
    "y":{"field":"y","type":"quantitative","scale":{"type":"log","domain":[6.04e-5,0.0407],"nice":false},"axis":null},"text":{"field":"t"}}}
 ]},
{"width":700,"height":361,
 "resolve":{"axis":{"x":"independent","y":"independent"}},
 "layer":[
  {"data":{"name":"b"},"transform":[{"filter":"datum.lo != null"}],"mark":{"type":"rule","color":"#909090","strokeWidth":1.1,"clip":true},
   "encoding":{"x":{"field":"w","type":"quantitative","scale":{"domain":[1.2,4.81],"nice":false,"zero":false},"axis":{"orient":"bottom","values":[2,3,4],"format":"d","tickSize":-10,"labelPadding":18,"title":"Wavelength (μm)","titlePadding":6}},
    "y":{"field":"lo","type":"quantitative","scale":{"type":"log","domain":[5.94e-5,0.0393],"nice":false},"axis":{"orient":"left","values":[0.0001,0.001,0.01],"format":".4f","tickSize":-14,"labelPadding":21,"title":"Reflectance","titlePadding":15}},
    "y2":{"field":"hi"}}},
  {"data":{"name":"b"},"mark":{"type":"point","shape":"triangle-up","filled":false,"size":16,"strokeWidth":1.3,"color":"#595959","opacity":1,"clip":true},
   "encoding":{"x":{"field":"w","type":"quantitative","scale":{"domain":[1.2,4.81],"nice":false,"zero":false},"axis":{"orient":"bottom","values":[1.3,1.4,1.5,1.6,1.7,1.8,1.9,2.1,2.2,2.3,2.4,2.5,2.6,2.7,2.8,2.9,3.1,3.2,3.3,3.4,3.5,3.6,3.7,3.8,3.9,4.1,4.2,4.3,4.4,4.5,4.6,4.7,4.8],"tickSize":-5,"labels":false,"domain":false,"title":null}},
    "y":{"field":"r","type":"quantitative","scale":{"type":"log","domain":[5.94e-5,0.0393],"nice":false},"axis":{"orient":"left","values":[7e-5,8e-5,9e-5,2e-4,3e-4,4e-4,5e-4,6e-4,7e-4,8e-4,9e-4,0.002,0.003,0.004,0.005,0.006,0.007,0.008,0.009,0.02,0.03],"tickSize":-7,"labels":false,"domain":false,"title":null}}}},
  {"data":{"name":"sb"},"mark":{"type":"line","color":"#47b3f5","strokeWidth":2.3,"strokeDash":[9,5],"interpolate":"monotone","clip":true},
   "encoding":{"x":{"field":"w","type":"quantitative","scale":{"domain":[1.2,4.81],"nice":false,"zero":false},"axis":{"orient":"top","values":[2,3,4],"tickSize":-10,"labels":false,"title":null}},
    "y":{"field":"r","type":"quantitative","scale":{"type":"log","domain":[5.94e-5,0.0393],"nice":false},"axis":{"orient":"right","values":[0.0001,0.001,0.01],"tickSize":-14,"labels":false,"title":null}}}},
  {"data":{"name":"brb"},"mark":{"type":"rule","color":"#8c8c8c","strokeWidth":1},
   "encoding":{"x":{"field":"x1","type":"quantitative","scale":{"domain":[1.2,4.81],"nice":false,"zero":false},"axis":{"orient":"top","values":[1.3,1.4,1.5,1.6,1.7,1.8,1.9,2.1,2.2,2.3,2.4,2.5,2.6,2.7,2.8,2.9,3.1,3.2,3.3,3.4,3.5,3.6,3.7,3.8,3.9,4.1,4.2,4.3,4.4,4.5,4.6,4.7,4.8],"tickSize":-5,"labels":false,"domain":false,"title":null}},
    "x2":{"field":"x2"},
    "y":{"field":"yh","type":"quantitative","scale":{"type":"log","domain":[5.94e-5,0.0393],"nice":false},"axis":{"orient":"right","values":[7e-5,8e-5,9e-5,2e-4,3e-4,4e-4,5e-4,6e-4,7e-4,8e-4,9e-4,0.002,0.003,0.004,0.005,0.006,0.007,0.008,0.009,0.02,0.03],"tickSize":-7,"labels":false,"domain":false,"title":null}}}},
  {"data":{"name":"brb"},"transform":[{"fold":["x1","x2"],"as":["end","xe"]}],"mark":{"type":"rule","color":"#8c8c8c","strokeWidth":1},
   "encoding":{"x":{"field":"xe","type":"quantitative","scale":{"domain":[1.2,4.81],"nice":false,"zero":false},"axis":null},
    "y":{"field":"yh","type":"quantitative","scale":{"type":"log","domain":[5.94e-5,0.0393],"nice":false},"axis":null},"y2":{"field":"yt"}}},
  {"data":{"name":"lbb"},"mark":{"type":"text","font":"DejaVu Sans","fontSize":16,"color":"#000","align":"center","baseline":"middle"},
   "encoding":{"x":{"field":"x","type":"quantitative","scale":{"domain":[1.2,4.81],"nice":false,"zero":false},"axis":null},
    "y":{"field":"y","type":"quantitative","scale":{"type":"log","domain":[5.94e-5,0.0393],"nice":false},"axis":null},"text":{"field":"t"}}},
  {"data":{"values":[{"x1":4.303,"x2":4.7,"y1":2.25e-4,"y2":1.02e-4}]},"mark":{"type":"rect","fill":"#fff","stroke":"#000","strokeWidth":2,"cornerRadius":2},
   "encoding":{"x":{"field":"x1","type":"quantitative","scale":{"domain":[1.2,4.81],"nice":false,"zero":false},"axis":null},"x2":{"field":"x2"},
    "y":{"field":"y1","type":"quantitative","scale":{"type":"log","domain":[5.94e-5,0.0393],"nice":false},"axis":null},"y2":{"field":"y2"}}},
  {"data":{"values":[{"t":"BOX  B","x":4.504,"y":1.51e-4}]},"mark":{"type":"text","font":"DejaVu Sans","fontSize":19,"color":"#000","align":"center","baseline":"middle"},
   "encoding":{"x":{"field":"x","type":"quantitative","scale":{"domain":[1.2,4.81],"nice":false,"zero":false},"axis":null},
    "y":{"field":"y","type":"quantitative","scale":{"type":"log","domain":[5.94e-5,0.0393],"nice":false},"axis":null},"text":{"field":"t"}}}
 ]}
]
}
